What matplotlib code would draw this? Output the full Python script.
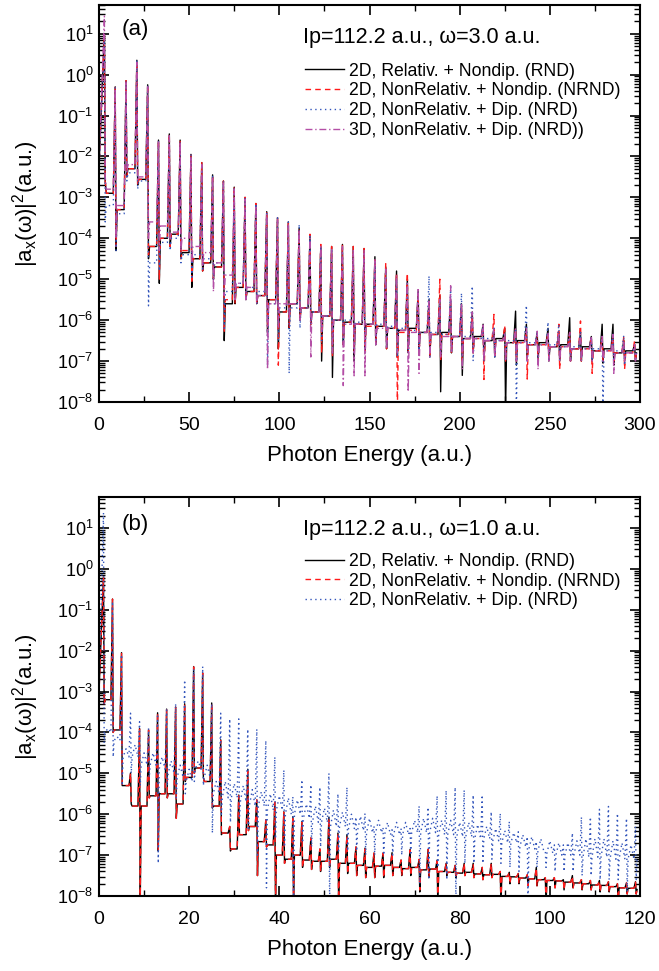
import numpy as np
import matplotlib
matplotlib.use('Agg')
import matplotlib.pyplot as plt
from matplotlib.ticker import LogLocator, NullFormatter, MultipleLocator, LogFormatterMathtext

plt.rcParams['font.family'] = ['Liberation Sans', 'DejaVu Sans']
plt.rcParams['mathtext.fontset'] = 'custom'
plt.rcParams['mathtext.rm'] = 'Liberation Sans'
plt.rcParams['mathtext.it'] = 'Liberation Sans:italic'
plt.rcParams['mathtext.bf'] = 'Liberation Sans:bold'

# ---------------- Panel (a): omega = 3.0 a.u. ----------------
omega_a = 3.0
harm_a = [3, 9, 15, 21, 27, 33, 39, 45, 51, 57, 63, 69, 75, 81, 87, 93, 99, 105, 111, 117,
          123, 129, 135, 141, 147, 153, 159, 165, 171, 177, 183, 189, 195, 201, 207, 213, 219,
          225, 231, 237, 243, 249, 255, 261, 267, 273, 279, 285, 291, 297]

# log10 of |a_x|^2: value at x=0, harmonic peak, dip after peak, background after harmonic
a_rnd_start = -2.24
a_rnd_peak = [1.0, -0.3, -0.15, 0.35, -0.25, -1.6, -1.45, -1.6, -1.95, -2.15, -2.45, -2.6, -2.75, -3.0,
              -3.15, -3.35, -3.5, -3.6, -3.75, -3.95, -4.2, -4.2, -4.15, -4.2, -4.25, -4.45, -4.7, -4.8,
              -5.0, -5.3, -5.5, -5.4, -5.5, -5.6, -5.8, -6.1, -6.2, -6.2, -5.78, -6.1, -6.3, -6.2, -6.3,
              -5.94, -6.3, -6.4, -6.1, -6.1, -6.5, -6.6]
a_rnd_dip = [-2.6, -4.3, -2.5, -2.7, -4.5, -5.1, -4.2, -4.5, -5.2, -4.8, -5.0, -6.5, -5.6, -5.5, -5.6,
             -6.3, -6.7, -6.2, -6.0, -6.1, -7.0, -7.4, -6.6, -7.0, -6.8, -6.6, -6.7, -6.9, -6.8, -6.8,
             -6.9, -7.75, -6.8, -7.35, -6.8, -7.0, -6.9, -8.2, -7.1, -6.9, -7.0, -7.0, -7.0, -7.0, -7.0,
             -7.0, -7.05, -7.1, -7.0, -7.0]
a_rnd_bg = [-2.9, -3.3, -2.3, -2.56, -4.2, -4.0, -3.9, -4.35, -4.5, -4.6, -4.7, -5.6, -5.2, -5.3, -5.4,
            -5.5, -5.8, -5.6, -5.7, -5.8, -5.9, -6.0, -6.05, -6.1, -6.1, -6.15, -6.2, -6.25, -6.2, -6.3,
            -6.35, -6.3, -6.4, -6.45, -6.4, -6.5, -6.45, -6.55, -6.5, -6.6, -6.55, -6.65, -6.6, -6.7,
            -6.65, -6.75, -6.7, -6.8, -6.75, -6.8]

a_nrnd_start = -2.3
a_nrnd_peak = [1.0, -0.3, -0.15, 0.35, -0.25, -1.6, -1.45, -1.6, -1.95, -2.15, -2.45, -2.6, -2.75, -3.0,
               -3.15, -3.35, -3.5, -3.6, -3.8, -3.9, -4.15, -4.2, -4.15, -4.2, -4.25, -4.5, -4.62, -4.85,
               -4.85, -5.4, -5.6, -5.0, -5.6, -5.7, -5.9, -6.2, -5.86, -6.13, -6.2, -6.3, -6.4, -6.3,
               -6.1, -6.3, -6.02, -6.4, -6.4, -6.4, -6.4, -6.5]
a_nrnd_dip = [-2.6, -4.2, -2.5, -2.7, -4.4, -5.0, -4.2, -4.5, -5.1, -4.8, -5.0, -6.3, -5.6, -5.5, -5.6,
              -6.2, -7.1, -6.2, -6.0, -6.1, -6.8, -6.9, -6.6, -6.8, -6.8, -6.6, -6.7, -8.2, -6.8, -6.8,
              -6.9, -7.0, -6.8, -7.0, -6.8, -7.45, -6.9, -7.0, -7.0, -7.44, -7.0, -7.0, -7.2, -7.0,
              -7.0, -7.3, -7.0, -7.0, -7.2, -7.0]
a_nrnd_bg = [-2.9, -3.3, -2.3, -2.56, -4.2, -4.0, -3.9, -4.3, -4.5, -4.6, -4.7, -5.5, -5.2, -5.3, -5.4,
             -5.5, -5.8, -5.6, -5.7, -5.8, -5.9, -6.0, -6.05, -6.1, -6.15, -6.15, -6.2, -6.3, -6.25,
             -6.3, -6.35, -6.35, -6.4, -6.45, -6.45, -6.5, -6.5, -6.55, -6.55, -6.6, -6.6, -6.65,
             -6.65, -6.7, -6.7, -6.75, -6.75, -6.8, -6.8, -6.8]

a_nrd_start = -2.45
a_nrd_peak = [0.9, -0.3, -0.15, 0.35, -0.25, -1.6, -1.5, -1.65, -1.95, -2.2, -2.45, -2.6, -2.75, -3.0,
              -3.15, -3.35, -3.5, -3.6, -3.66, -3.95, -4.2, -4.25, -4.3, -4.4, -4.5, -4.6, -4.8, -5.0,
              -5.1, -5.3, -4.92, -5.6, -5.2, -5.34, -5.17, -6.2, -6.2, -6.3, -6.2, -5.64, -6.3, -6.05,
              -6.1, -6.3, -6.3, -6.4, -6.4, -6.3, -6.37, -6.6]
a_nrd_dip = [-3.6, -4.3, -2.6, -2.8, -5.65, -4.8, -4.3, -4.6, -5.0, -4.8, -5.0, -6.2, -5.5, -5.5, -5.6,
             -7.1, -6.5, -7.3, -6.2, -6.1, -6.5, -6.8, -6.6, -6.8, -6.8, -6.6, -6.7, -6.9, -6.8, -6.8,
             -6.9, -6.9, -6.8, -6.9, -7.0, -7.0, -6.9, -7.0, -8.2, -7.0, -7.0, -7.0, -7.0, -7.0, -7.0,
             -7.0, -8.2, -7.0, -7.1, -7.0]
a_nrd_bg = [-3.2, -3.4, -2.4, -2.6, -4.6, -4.1, -4.0, -4.4, -4.4, -4.5, -4.6, -5.3, -5.1, -5.2, -5.3,
            -5.6, -5.7, -5.7, -5.7, -5.8, -5.9, -6.0, -6.0, -6.05, -6.1, -6.1, -6.15, -6.2, -6.25, -6.3,
            -6.3, -6.35, -6.4, -6.4, -6.45, -6.45, -6.5, -6.5, -6.55, -6.55, -6.6, -6.6, -6.65, -6.65,
            -6.7, -6.7, -6.75, -6.75, -6.8, -6.8]

a_3d_start = -2.2
a_3d_peak = [1.43, -0.35, -0.2, 0.3, -0.3, -1.65, -1.5, -1.65, -2.0, -2.2, -2.5, -2.65, -2.8, -3.05,
             -3.2, -3.4, -3.55, -3.65, -3.8, -4.0, -4.2, -4.25, -4.2, -4.3, -4.3, -4.5, -4.75, -4.9,
             -5.1, -5.21, -5.5, -5.5, -5.16, -5.6, -5.8, -6.08, -6.2, -6.3, -6.2, -6.2, -6.27, -6.3,
             -6.3, -6.3, -6.35, -6.4, -6.4, -6.35, -6.5, -6.6]
a_3d_dip = [-2.5, -4.0, -2.4, -2.6, -4.0, -4.3, -4.0, -4.3, -4.6, -4.7, -5.3, -5.4, -5.5, -5.5, -5.6,
            -7.2, -6.2, -6.0, -6.0, -6.9, -6.3, -6.8, -7.6, -7.36, -7.36, -6.6, -6.7, -6.8, -7.75,
            -7.3, -6.9, -6.9, -6.8, -7.2, -6.8, -7.0, -6.9, -7.0, -7.0, -7.0, -7.2, -7.0, -7.0, -7.0,
            -7.0, -7.0, -7.0, -7.3, -7.0, -7.0]
a_3d_bg = [-2.8, -3.2, -2.2, -2.5, -3.6, -3.7, -3.85, -4.0, -4.2, -4.35, -4.6, -4.9, -5.1, -5.2, -5.4,
           -5.6, -5.6, -5.6, -5.7, -5.8, -5.9, -6.0, -6.1, -6.1, -6.1, -6.2, -6.2, -6.25, -6.3, -6.3,
           -6.35, -6.4, -6.4, -6.45, -6.45, -6.5, -6.5, -6.55, -6.55, -6.6, -6.6, -6.65, -6.65, -6.7,
           -6.7, -6.75, -6.75, -6.8, -6.8, -6.8]

# ---------------- Panel (b): omega = 1.0 a.u. ----------------
omega_b = 1.0
harm_b = [1, 3, 5, 7, 9, 11, 13, 15, 17, 19, 21, 23, 25, 27, 29, 31, 33, 35, 37, 39,
          41, 43, 45, 47, 49, 51, 53, 55, 57, 59, 61, 63, 65, 67, 69, 71, 73, 75, 77, 79,
          81, 83, 85, 87, 89, 91, 93, 95, 97, 99, 101, 103, 105, 107, 109, 111, 113, 115, 117, 119]

b_rnd_start = -3.0
b_rnd_peak = [-0.19, -0.74, -2.05, -4.99, -3.9, -3.94, -3.52, -3.43, -3.38, -3.3,
              -2.39, -2.55, -3.28, -4.18, -6.3, -5.53, -4.9, -5.65, -6.14, -5.72,
              -5.94, -6.06, -6.18, -6.58, -6.85, -6.07, -6.46, -6.5, -6.8, -6.83,
              -6.95, -6.95, -6.94, -7.12, -6.86, -7.12, -6.86, -7.12, -7.2, -7.25,
              -7.2, -7.2, -7.3, -7.2, -7.4, -7.42, -7.45, -7.48, -7.3, -7.55,
              -7.55, -7.6, -7.5, -7.6, -7.62, -7.62, -7.65, -7.7, -7.68, -7.65]
b_rnd_dip = [-3.3, -4.0, -5.3, -5.75, -8.2, -5.6, -6.9, -5.6, -6.1, -5.2,
             -5.0, -5.1, -5.85, -6.5, -6.9, -6.5, -6.4, -7.5, -6.8, -8.2,
             -7.2, -8.2, -7.3, -7.35, -7.4, -7.3, -8.2, -7.45, -7.5, -7.55,
             -7.55, -7.55, -7.5, -7.5, -7.5, -7.9, -7.55, -8.2, -7.5, -7.55,
             -7.5, -7.55, -7.6, -7.55, -8.2, -7.7, -7.7, -7.75, -7.75, -8.2,
             -7.8, -7.85, -7.8, -7.85, -7.85, -7.9, -7.9, -8.2, -7.95, -7.95]
b_rnd_bg = [-3.2, -3.94, -5.3, -5.8, -5.8, -5.55, -5.5, -5.5, -5.75, -5.1,
            -4.87, -5.2, -5.8, -6.46, -6.85, -6.5, -6.3, -6.67, -6.75, -7.0,
            -7.1, -7.0, -7.12, -7.15, -7.15, -7.1, -7.2, -7.2, -7.25, -7.3,
            -7.27, -7.25, -7.3, -7.33, -7.3, -7.36, -7.34, -7.4, -7.42, -7.44,
            -7.42, -7.46, -7.48, -7.47, -7.52, -7.53, -7.56, -7.58, -7.6, -7.62,
            -7.63, -7.66, -7.68, -7.7, -7.73, -7.74, -7.77, -7.8, -7.81, -7.84]

b_nrnd_start = -3.05
b_nrnd_peak = [-0.2, -0.74, -2.05, -5.0, -3.92, -3.94, -3.52, -3.45, -3.38, -3.3,
               -2.4, -2.55, -3.3, -4.2, -6.3, -5.55, -4.95, -5.65, -6.14, -5.7,
               -5.95, -6.06, -6.2, -6.58, -6.85, -6.1, -6.46, -6.52, -6.8, -6.85,
               -6.95, -6.95, -6.95, -7.12, -6.88, -7.1, -6.86, -7.14, -7.2, -7.25,
               -7.2, -7.22, -7.3, -7.2, -7.4, -7.42, -7.45, -7.48, -7.32, -7.55,
               -7.55, -7.6, -7.52, -7.6, -7.62, -7.63, -7.65, -7.7, -7.68, -7.66]
b_nrnd_dip = [-3.3, -4.0, -5.3, -5.7, -8.0, -5.6, -6.9, -5.6, -6.1, -5.2,
              -5.0, -5.1, -5.85, -6.5, -6.9, -6.5, -6.4, -7.5, -6.8, -8.2,
              -7.2, -8.0, -7.3, -7.35, -7.4, -7.3, -8.2, -7.45, -7.5, -7.55,
              -7.55, -7.55, -7.5, -7.5, -7.5, -7.85, -7.55, -8.2, -7.5, -7.55,
              -7.5, -7.55, -7.6, -7.55, -8.2, -7.7, -7.7, -7.75, -7.75, -8.2,
              -7.8, -7.85, -7.8, -7.85, -7.85, -7.9, -7.9, -8.2, -7.95, -7.95]
b_nrnd_bg = [-3.2, -3.94, -5.3, -5.8, -5.8, -5.55, -5.5, -5.5, -5.75, -5.1,
             -4.87, -5.2, -5.8, -6.46, -6.85, -6.5, -6.3, -6.67, -6.75, -7.0,
             -7.1, -7.0, -7.12, -7.15, -7.15, -7.1, -7.2, -7.2, -7.25, -7.3,
             -7.27, -7.25, -7.3, -7.33, -7.3, -7.36, -7.34, -7.4, -7.42, -7.44,
             -7.42, -7.46, -7.48, -7.47, -7.52, -7.53, -7.56, -7.58, -7.6, -7.62,
             -7.63, -7.66, -7.68, -7.7, -7.73, -7.74, -7.77, -7.8, -7.81, -7.84]

b_nrd_start = -2.9
b_nrd_peak = [1.37, -0.8, -2.1, -3.53, -3.74, -3.9, -3.6, -3.45, -3.3, -2.72,
              -2.45, -2.39, -3.3, -3.53, -3.67, -3.67, -3.92, -3.92, -4.2, -4.6,
              -4.92, -5.57, -5.16, -5.28, -5.34, -5.0, -5.5, -5.34, -6.07, -5.98,
              -6.29, -6.32, -6.38, -6.35, -6.35, -5.8, -5.83, -5.55, -5.42, -5.34,
              -5.41, -5.53, -5.53, -5.94, -5.98, -6.18, -6.43, -6.55, -6.67, -6.9,
              -6.75, -6.75, -6.46, -6.07, -6.07, -5.88, -5.81, -5.98, -6.1, -6.3]
b_nrd_dip = [-4.26, -4.6, -5.3, -5.0, -5.3, -5.1, -7.2, -5.3, -5.6, -5.5,
             -5.2, -5.3, -6.46, -6.0, -6.2, -6.1, -6.4, -7.0, -7.8, -6.6,
             -6.8, -8.2, -6.7, -6.8, -6.8, -8.2, -6.9, -6.9, -6.9, -7.0,
             -7.0, -7.0, -7.0, -7.0, -7.0, -7.7, -7.6, -7.3, -7.6, -8.2,
             -7.2, -7.2, -7.2, -7.1, -7.2, -7.3, -7.4, -8.2, -7.3, -7.3,
             -7.4, -7.4, -7.4, -7.5, -7.5, -7.6, -7.6, -7.6, -7.9, -7.6]
b_nrd_bg = [-4.0, -4.2, -4.6, -4.6, -4.8, -4.8, -4.9, -5.0, -5.1, -5.2,
            -4.9, -5.1, -5.5, -5.6, -5.6, -5.7, -5.8, -5.8, -5.9, -5.9,
            -6.0, -6.0, -6.1, -6.2, -6.2, -6.3, -6.3, -6.35, -6.4, -6.45,
            -6.45, -6.5, -6.5, -6.5, -6.45, -6.45, -6.45, -6.5, -6.5, -6.55,
            -6.55, -6.6, -6.6, -6.65, -6.7, -6.7, -6.8, -6.85, -6.9, -6.95,
            -7.0, -7.0, -7.0, -7.05, -7.05, -7.05, -7.1, -7.1, -7.1, -7.1]
# small bumps at the even orders between the odd harmonics (NRD, panel b)
b_nrd_mid = [-3.9, -4.1, -4.4, -4.3, -4.5, -4.5, -4.6, -4.7, -4.8, -4.9,
             -4.7, -4.8, -5.2, -5.2, -5.25, -5.3, -5.4, -5.45, -5.5, -5.55,
             -5.6, -5.65, -5.75, -5.8, -5.85, -5.9, -5.95, -6.0, -6.05, -6.1,
             -6.15, -6.2, -6.2, -6.2, -6.15, -6.1, -6.1, -6.15, -6.15, -6.2,
             -6.2, -6.25, -6.3, -6.35, -6.4, -6.45, -6.5, -6.55, -6.6, -6.65,
             -6.7, -6.7, -6.65, -6.6, -6.6, -6.6, -6.65, -6.7, -6.75, -6.8]

labels = ['2D, Relativ. + Nondip. (RND)',
          '2D, NonRelativ. + Nondip. (NRND)',
          '2D, NonRelativ. + Dip. (NRD)',
          '3D, NonRelativ. + Dip. (NRD))']


def spectrum(harm, half, start, peak, dip, bg, mid=None):
    """Polyline through the values read for each harmonic."""
    xs = [0.0]
    ys = [start]
    for i, h in enumerate(harm):
        if i > 0:
            if mid is not None:
                xs.append(h - half)
                ys.append(mid[i - 1])
            xs.append(h - 0.35 * half)
            ys.append(bg[i - 1])
        xs += [h, h + 0.15 * half, h + 0.35 * half]
        ys += [peak[i], dip[i], bg[i]]
    return np.array(xs), 10.0 ** np.array(ys)


C_BLACK = '#000000'
C_RED = '#ff1a1a'
C_BLUE = '#3355bb'
C_MAG = '#b44fa6'
LW = 1.0

fig = plt.figure(figsize=(6.59, 9.71), dpi=100)
ax_a = fig.add_axes([0.1502, 0.586, 0.8210, 0.4088])
ax_b = fig.add_axes([0.1502, 0.0772, 0.8210, 0.4110])


def style_axis(ax, xmax, major, minor, ytop):
    ax.set_yscale('log')
    ax.set_xlim(0, xmax)
    ax.set_ylim(1e-8, ytop)
    ax.xaxis.set_major_locator(MultipleLocator(major))
    ax.xaxis.set_minor_locator(MultipleLocator(minor))
    ax.yaxis.set_major_locator(LogLocator(base=10, numticks=20))
    ax.yaxis.set_minor_locator(LogLocator(base=10, subs=np.arange(2, 10), numticks=20))
    ax.yaxis.set_major_formatter(LogFormatterMathtext())
    ax.yaxis.set_minor_formatter(NullFormatter())
    ax.tick_params(which='both', direction='in', top=True, right=True)
    ax.tick_params(which='major', length=7, width=1.2)
    ax.tick_params(which='minor', length=4, width=1.0)
    ax.tick_params(axis='x', labelsize=14, pad=11)
    ax.tick_params(axis='y', labelsize=13, pad=4)
    for s in ax.spines.values():
        s.set_linewidth(1.5)
    ax.set_xlabel('Photon Energy (a.u.)', fontsize=16, labelpad=8)
    ax.set_ylabel(r'$\mathregular{|a_x(\omega)|^2}$(a.u.)', fontsize=16)
    ax.yaxis.set_label_coords(-0.108, 0.5)


legend_kw = dict(loc='upper left', frameon=False, fontsize=12.7, handlelength=2.2,
                 handletextpad=0.3, labelspacing=0.16, borderpad=0, borderaxespad=0)

# Panel (a)
x, y = spectrum(harm_a, omega_a, a_rnd_start, a_rnd_peak, a_rnd_dip, a_rnd_bg)
ax_a.plot(x, y, color=C_BLACK, lw=LW, ls='-', label=labels[0])
x, y = spectrum(harm_a, omega_a, a_nrnd_start, a_nrnd_peak, a_nrnd_dip, a_nrnd_bg)
ax_a.plot(x, y, color=C_RED, lw=LW, ls=(0, (4, 3)), label=labels[1])
x, y = spectrum(harm_a, omega_a, a_nrd_start, a_nrd_peak, a_nrd_dip, a_nrd_bg)
ax_a.plot(x, y, color=C_BLUE, lw=LW, ls=(0, (1, 2.5)), label=labels[2])
x, y = spectrum(harm_a, omega_a, a_3d_start, a_3d_peak, a_3d_dip, a_3d_bg)
ax_a.plot(x, y, color=C_MAG, lw=LW, ls=(0, (5, 2, 1, 2)), label=labels[3])
style_axis(ax_a, 300, 50, 25, 50)
ax_a.text(0.042, 0.938, '(a)', transform=ax_a.transAxes, fontsize=16, va='center', ha='left')
ax_a.text(0.377, 0.918, 'Ip=112.2 a.u., ω=3.0 a.u.', transform=ax_a.transAxes,
          fontsize=15.5, va='center', ha='left')
ax_a.legend(bbox_to_anchor=(0.381, 0.855), **legend_kw)

# Panel (b)
x, y = spectrum(harm_b, omega_b, b_rnd_start, b_rnd_peak, b_rnd_dip, b_rnd_bg)
ax_b.plot(x, y, color=C_BLACK, lw=LW, ls='-', label=labels[0])
x, y = spectrum(harm_b, omega_b, b_nrnd_start, b_nrnd_peak, b_nrnd_dip, b_nrnd_bg)
ax_b.plot(x, y, color=C_RED, lw=LW, ls=(0, (4, 3)), label=labels[1])
x, y = spectrum(harm_b, omega_b, b_nrd_start, b_nrd_peak, b_nrd_dip, b_nrd_bg, b_nrd_mid)
ax_b.plot(x, y, color=C_BLUE, lw=LW, ls=(0, (1, 2.5)), label=labels[2])
style_axis(ax_b, 120, 20, 10, 57)
ax_b.text(0.042, 0.932, '(b)', transform=ax_b.transAxes, fontsize=16, va='center', ha='left')
ax_b.text(0.377, 0.918, 'Ip=112.2 a.u., ω=1.0 a.u.', transform=ax_b.transAxes,
          fontsize=15.5, va='center', ha='left')
ax_b.legend(bbox_to_anchor=(0.381, 0.86), **legend_kw)

fig.savefig('out.png', dpi=100)
